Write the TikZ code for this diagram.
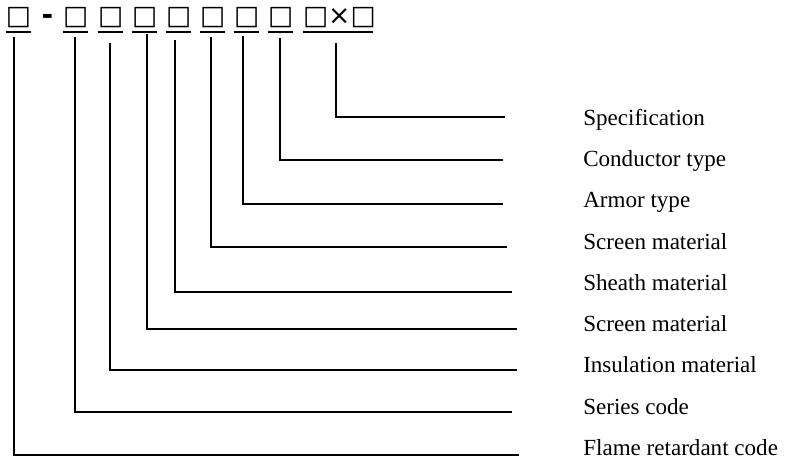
\documentclass[tikz,border=0pt]{standalone}
\usepackage{fontspec}
\setmainfont{Liberation Serif}
\newfontfamily\symfont{DejaVu Sans}
\begin{document}
\begin{tikzpicture}[x=0.75pt,y=-0.75pt,
  wire/.style={line width=1.4pt},
  codebox/.style={anchor=south, inner sep=0pt, text depth=5.25pt, text width=18.75pt, align=center,
    font=\symfont\fontsize{20}{20}\selectfont,
    append after command={(\tikzlastnode.south west) edge[wire] (\tikzlastnode.south east)}},
  lbl/.style={anchor=base west, inner sep=0pt, font=\fontsize{17.3}{20}\selectfont}]
\useasboundingbox (0,0) rectangle (787,465);
% code row
\node[codebox] (b1) at (18.5,32) {□};
\node[anchor=base, inner sep=0pt, font=\symfont\bfseries\fontsize{21}{21}\selectfont] (dash) at (47.5,24) {-};
\node[codebox] (b2) at (75.5,32) {□};
\node[codebox] (b3) at (110.5,32) {□};
\node[codebox] (b4) at (144.5,32) {□};
\node[codebox] (b5) at (178.5,32) {□};
\node[codebox] (b6) at (212.5,32) {□};
\node[codebox] (b7) at (246.5,32) {□};
\node[codebox] (b8) at (280.5,32) {□};
\node[codebox, text width=52.5pt] (b9) at (338,32) {□×□};
% labels and connectors
\foreach \i/\tx/\ty/\ly/\ex/\lb/\txt in {
  1/14/37/455/519/455/Flame retardant code,
  2/75/37/412/512/414/Series code,
  3/110/43/370/517/372/Insulation material,
  4/147/34/329/517/331/Screen material,
  5/175/40/292/512/290/Sheath material,
  6/211/37/247/507/249/Screen material,
  7/243/36/204/503/207/Armor type,
  8/280/38/160/503/166/Conductor type,
  9/336/43/117/505/125/Specification}{
  \coordinate (t\i) at (\tx,\ty);
  \coordinate (e\i) at (\ex,\ly);
  \node[lbl] (l\i) at (583,\lb) {\txt};
  \draw[wire] (t\i) |- (e\i);
}
\end{tikzpicture}
\end{document}
